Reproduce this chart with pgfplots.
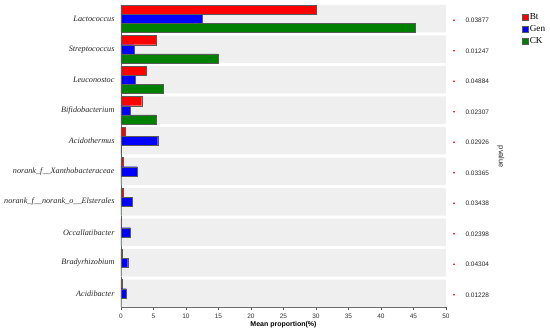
\documentclass[border=0pt]{standalone}
\usepackage{fontspec}
\setmainfont{Liberation Serif}
\newfontfamily\arial{Liberation Sans}
\usepackage{pgfplots}
\pgfplotsset{compat=1.18}
\definecolor{band}{HTML}{EFEFEF}
\definecolor{cgreen}{RGB}{0,128,0}
\definecolor{edge}{RGB}{90,90,90}
\pgfplotsset{sq legend/.style={legend image code/.code={\draw[##1,line width=0.3pt] (0pt,-3.2pt) rectangle (6.4pt,3.2pt);}}}
\begin{document}
\begin{tikzpicture}[x=1pt,y=1pt]
\useasboundingbox (0,0) rectangle (550,336);
\begin{axis}[
  at={(121pt,29pt)}, anchor=south west,
  scale only axis, width=325pt, height=302pt,
  xmin=0, xmax=50, ymin=-0.45, ymax=9.45, y dir=reverse,
  clip=false,
  axis x line=bottom, axis y line=left,
  axis line style={-, draw=edge, line width=0.6pt},
  xtick={0,5,...,50},
  ytick={0,...,9},
  yticklabels={Lactococcus, Streptococcus, Leuconostoc, Bifidobacterium, Acidothermus, norank\_f\_\_Xanthobacteraceae, norank\_f\_\_norank\_o\_\_Elsterales, Occallatibacter, Bradyrhizobium, Acidibacter},
  y tick label style={font=\itshape\fontsize{8.2}{10}\selectfont, text=black!85},
  x tick label style={font=\arial\fontsize{6.5}{7}\selectfont, text=black!80},
  /pgf/number format/assume math mode=true,
  y tick style={draw=none},
  x tick style={draw=edge, line width=0.4pt},
  tick align=outside, major tick length=3pt,
  xlabel={\bfseries Mean proportion(\%)},
  xlabel style={font=\arial\fontsize{7}{8}\selectfont, yshift=4pt},
  legend style={draw=none, fill=none, at={(1.232,0.972)}, anchor=north west,
    font=\fontsize{9.2}{10}\selectfont, row sep=4.3pt, inner sep=0pt,
    nodes={inner xsep=1.5pt, inner ysep=0pt}},
  legend cell align=left,
]
\addplot[forget plot, xbar, bar width=27.5pt, bar shift=0pt, fill=band, draw=none]
  coordinates {(50,0) (50,1) (50,2) (50,3) (50,4) (50,5) (50,6) (50,7) (50,8) (50,9)};
\addplot[xbar, bar width=9.1pt, bar shift=9.1pt, fill=red, draw=edge, line width=0.3pt, sq legend]
  coordinates {(30.1,0) (5.4,1) (3.85,2) (3.18,3) (0.67,4) (0.36,5) (0.3,6) (0.06,7) (0.2,8) (0.2,9)};
\addlegendentry{Bt}
\addplot[xbar, bar width=9.1pt, bar shift=0pt, fill=blue, draw=edge, line width=0.3pt, sq legend]
  coordinates {(12.5,0) (2.0,1) (2.2,2) (1.44,3) (5.64,4) (2.5,5) (1.74,6) (1.44,7) (1.03,8) (0.82,9)};
\addlegendentry{Gen}
\addplot[xbar, bar width=9.1pt, bar shift=-9.1pt, fill=cgreen, draw=edge, line width=0.3pt, sq legend]
  coordinates {(45.3,0) (14.9,1) (6.45,2) (5.4,3) (0.05,4) (0,5) (0,6) (0,7) (0,8) (0,9)};
\addlegendentry{CK}
\addplot[forget plot, only marks, mark=*, mark size=0.55pt, red,
  nodes near coords, point meta=explicit symbolic,
  nodes near coords style={anchor=west, xshift=8pt, text=black!85, font=\arial\fontsize{6.5}{7}\selectfont}]
  table[meta=p] {
x y p
51.23 0.05 0.03877
51.23 1.05 0.01247
51.23 2.05 0.04884
51.23 3.05 0.02307
51.23 4.05 0.02926
51.23 5.05 0.03365
51.23 6.05 0.03438
51.23 7.05 0.02398
51.23 8.05 0.04304
51.23 9.05 0.01228
};
\node[rotate=-90, font=\arial\fontsize{7.5}{8}\selectfont, text=black!85] at (rel axis cs:1.169,0.497) {pvalue};
\end{axis}
\end{tikzpicture}
\end{document}
